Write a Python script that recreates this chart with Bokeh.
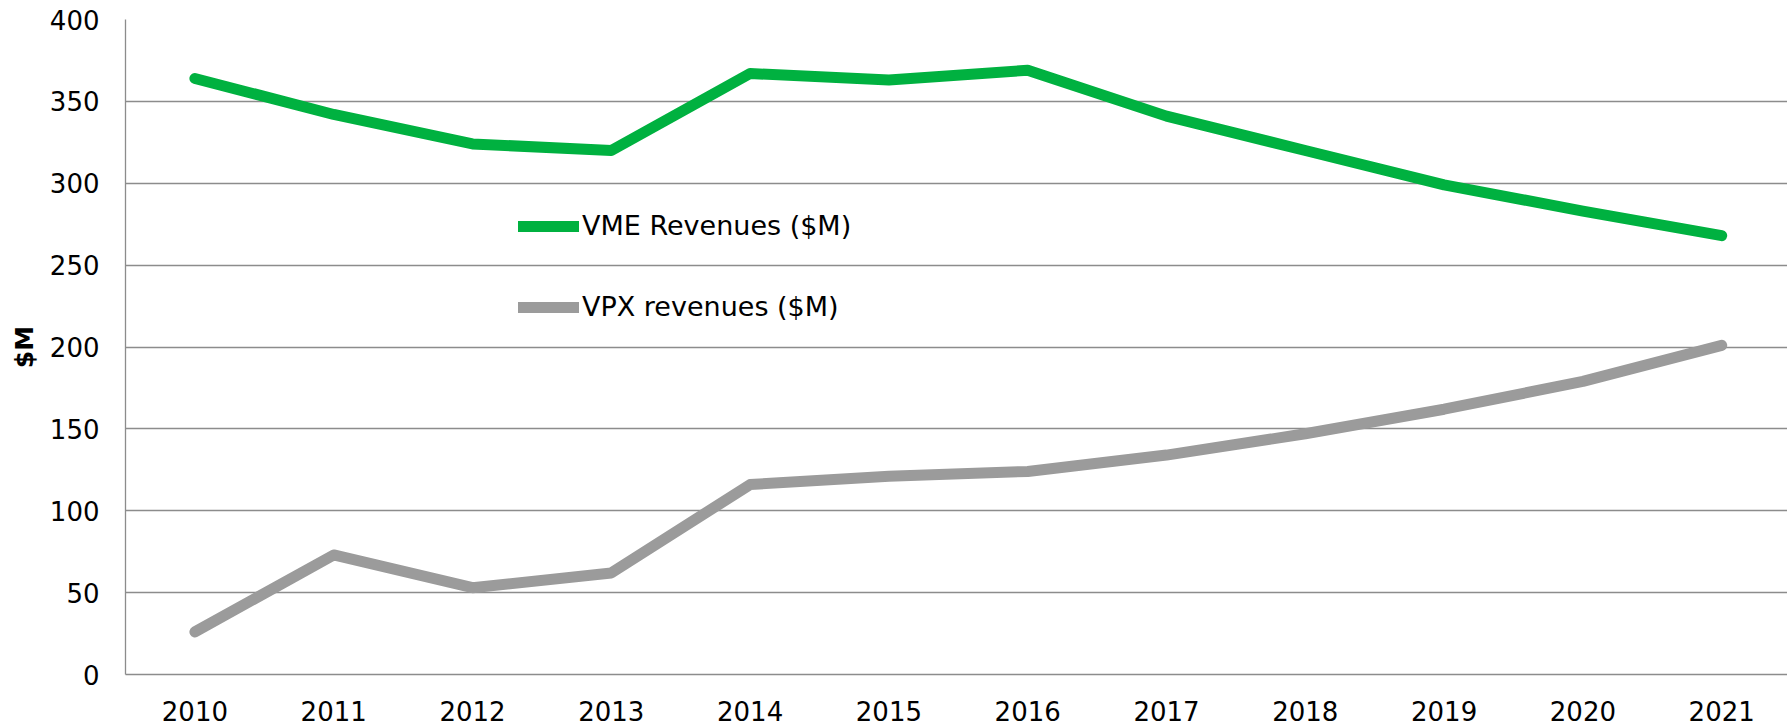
from bokeh.plotting import figure
from bokeh.models import Range1d, FixedTicker, Legend, LegendItem
from bokeh.embed import file_html
from bokeh.resources import INLINE

years = [2010, 2011, 2012, 2013, 2014, 2015, 2016, 2017, 2018, 2019, 2020, 2021]
vme = [364, 342, 324, 320, 367, 363, 369, 341, 320, 299, 283, 268]
vpx = [26, 73, 53, 62, 116, 121, 124, 134, 147, 162, 179, 201]
y_ticks = [0, 50, 100, 150, 200, 250, 300, 350, 400]
vme_label = "VME Revenues ($M)"
vpx_label = "VPX revenues ($M)"
y_title = "$M"

FONT = "DejaVu Sans"
GRID = "#8c8c8c"

p = figure(width=1787, height=726, output_backend="svg", toolbar_location=None,
           x_range=Range1d(2009.5, 2021.474), y_range=Range1d(0, 400),
           min_border_left=125, min_border_right=0, min_border_top=19, min_border_bottom=52)
p.outline_line_color = None
p.background_fill_color = "white"

p.xaxis.ticker = FixedTicker(ticks=years)
p.yaxis.ticker = FixedTicker(ticks=y_ticks)
for ax in (p.xaxis, p.yaxis):
    ax.axis_line_color = GRID
    ax.axis_line_width = 1.3
    ax.major_tick_line_color = None
    ax.minor_tick_line_color = None
    ax.major_tick_out = 0
    ax.major_tick_in = 0
    ax.major_label_text_font = FONT
    ax.major_label_text_font_size = "26px"
    ax.major_label_text_color = "black"
p.xaxis.major_label_standoff = 26
p.yaxis.major_label_standoff = 26
p.yaxis.axis_label = y_title
p.yaxis.axis_label_text_font = FONT
p.yaxis.axis_label_text_font_size = "25px"
p.yaxis.axis_label_text_font_style = "bold"
p.yaxis.axis_label_text_color = "black"
p.yaxis.axis_label_standoff = 8

p.xgrid.grid_line_color = None
p.ygrid.grid_line_color = GRID
p.ygrid.grid_line_width = 1.3

r1 = p.line(years, vme, line_color="#00b140", line_width=11, line_cap="round", line_join="round")
r2 = p.line(years, vpx, line_color="#9b9b9b", line_width=11, line_cap="round", line_join="round")

legend = Legend(items=[LegendItem(label=vme_label, renderers=[r1]),
                       LegendItem(label=vpx_label, renderers=[r2])],
                location=(393, 352), orientation="vertical")
legend.border_line_color = None
legend.background_fill_alpha = 0
legend.padding = 0
legend.margin = 0
legend.spacing = 50
legend.glyph_width = 61
legend.glyph_height = 30
legend.label_height = 30
legend.label_standoff = 3
legend.label_text_font = FONT
legend.label_text_font_size = "27px"
legend.label_text_color = "black"
p.add_layout(legend, "center")

open("out.html", "w").write(file_html(p, INLINE))
